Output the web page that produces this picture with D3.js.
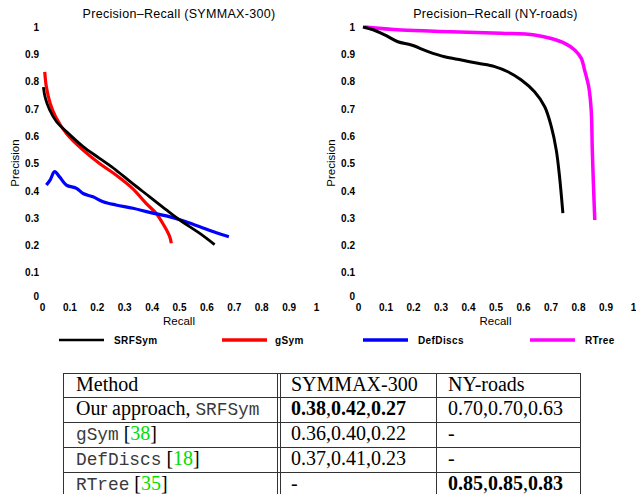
<!DOCTYPE html>
<html lang="en">
<head>
  <meta charset="UTF-8">
  <title>Precision-Recall</title>
  <script src="https://d3js.org/d3.v7.min.js"></script>
  <style>
    body { margin: 0; background: #fff; }
    svg { display: block; }
    .tick text { font-family: "Liberation Sans", Arial, sans-serif; font-weight: bold; }
  </style>
</head>
<body>
  <svg id="chart" width="636" height="494"></svg>
  <script>
    // tick values / labels shared by both panels
    const tickValues = [0, 0.1, 0.2, 0.3, 0.4, 0.5, 0.6, 0.7, 0.8, 0.9, 1];
    const tickLabels = ["0", "0.1", "0.2", "0.3", "0.4", "0.5", "0.6", "0.7", "0.8", "0.9", "1"];

    // SYMMAX-300 curves, [recall, precision]
    const symmaxSRFSym = [[0.005, 0.78], [0.012, 0.74], [0.028, 0.696], [0.053, 0.653], [0.089, 0.617],
      [0.15, 0.562], [0.21, 0.519], [0.27, 0.476], [0.33, 0.427], [0.393, 0.378], [0.454, 0.33],
      [0.503, 0.293], [0.576, 0.244], [0.63, 0.203]];
    const symmaxGSym = [[0.01, 0.836], [0.016, 0.78], [0.03, 0.72], [0.05, 0.67], [0.089, 0.61],
      [0.15, 0.549], [0.21, 0.5], [0.27, 0.458], [0.33, 0.409], [0.38, 0.354], [0.417, 0.317],
      [0.448, 0.268], [0.466, 0.232], [0.472, 0.208]];
    const symmaxDefDiscs = [[0.016, 0.421], [0.03, 0.44], [0.046, 0.47], [0.065, 0.45], [0.089, 0.421],
      [0.126, 0.409], [0.15, 0.39], [0.186, 0.378], [0.223, 0.36], [0.27, 0.348], [0.332, 0.336],
      [0.393, 0.321], [0.454, 0.308], [0.515, 0.29], [0.576, 0.268], [0.636, 0.246], [0.682, 0.232]];

    // NY-roads curves, [recall, precision]
    const nySRFSym = [[0.018, 1.0], [0.055, 0.99], [0.097, 0.971], [0.145, 0.946], [0.194, 0.934],
      [0.255, 0.91], [0.315, 0.891], [0.376, 0.879], [0.436, 0.867], [0.497, 0.855], [0.545, 0.836],
      [0.594, 0.806], [0.642, 0.763], [0.679, 0.708], [0.703, 0.635], [0.721, 0.549], [0.733, 0.451],
      [0.745, 0.318]];
    const nyRTree = [[0.024, 1.0], [0.157, 0.989], [0.34, 0.983], [0.521, 0.977], [0.642, 0.971],
      [0.703, 0.958], [0.752, 0.94], [0.788, 0.916], [0.812, 0.885], [0.824, 0.842], [0.839, 0.781],
      [0.848, 0.696], [0.852, 0.549], [0.856, 0.427], [0.861, 0.293]];

    const legendNames = ["SRFSym", "gSym", "DefDiscs", "RTree"];
    const legendColors = ["#000000", "#ff0000", "#0000ff", "#ff00ff"];

    // table content
    const tableHeader = ["Method", "SYMMAX-300", "NY-roads"];
    const methodNames = ["Our approach, ", "gSym", "DefDiscs", "RTree"];
    const methodCites = [null, "38", "18", "35"];
    const symmaxScores = [["0.38", "0.42", "0.27"], ["0.36", "0.40", "0.22"], ["0.37", "0.41", "0.23"], null];
    const nyScores = [["0.70", "0.70", "0.63"], null, null, ["0.85", "0.85", "0.83"]];
    const boldScores = [[true, false], [false, false], [false, false], [false, true]];

    const svg = d3.select("#chart");
    const sans = "'Liberation Sans', Arial, sans-serif";

    const y = d3.scaleLinear().domain([0, 1]).range([300, 27]);

    // [data, colour index, stroke width], drawn in this order
    const panels = [
      { title: "Precision\u2013Recall (SYMMAX-300)", x: d3.scaleLinear().domain([0, 1]).range([42, 316]),
        series: [[symmaxGSym, 1, 3.2], [symmaxDefDiscs, 2, 3.2], [symmaxSRFSym, 0, 2.8]] },
      { title: "Precision\u2013Recall (NY-roads)", x: d3.scaleLinear().domain([0, 1]).range([358, 633]),
        series: [[nyRTree, 3, 3.5], [nySRFSym, 0, 3]] }
    ];

    panels.forEach(p => {
      const x = p.x;
      const cx = (x.range()[0] + x.range()[1]) / 2;

      const xAxis = svg.append("g")
          .attr("transform", "translate(0,300)")
          .call(d3.axisBottom(x).tickValues(tickValues).tickFormat((d, i) => tickLabels[i]).tickSize(0).tickPadding(4));
      xAxis.select(".domain").remove();
      xAxis.selectAll("text").attr("font-size", 10).attr("fill", "#000");

      const yAxis = svg.append("g")
          .attr("transform", `translate(${x.range()[0]},0)`)
          .call(d3.axisLeft(y).tickValues(tickValues).tickFormat((d, i) => tickLabels[i]).tickSize(0).tickPadding(3));
      yAxis.select(".domain").remove();
      yAxis.selectAll("text").attr("font-size", 10).attr("fill", "#000");
      // the zero label sits a bit above the x labels
      yAxis.selectAll(".tick").filter(d => d === 0).select("text").attr("dy", "-0.05em");

      svg.append("text")
          .attr("x", cx).attr("y", 18)
          .attr("text-anchor", "middle")
          .attr("font-family", sans).attr("font-size", 12.5)
          .attr("letter-spacing", 0.3)
          .text(p.title);

      svg.append("text")
          .attr("x", cx).attr("y", 325)
          .attr("text-anchor", "middle")
          .attr("font-family", sans).attr("font-size", 11.5)
          .text("Recall");

      svg.append("text")
          .attr("transform", `translate(${x.range()[0] - 23},163) rotate(-90)`)
          .attr("text-anchor", "middle")
          .attr("font-family", sans).attr("font-size", 11.5)
          .text("Precision");

      const line = d3.line().x(d => x(d[0])).y(d => y(d[1])).curve(d3.curveCatmullRom.alpha(0.5));
      p.series.forEach(([data, ci, w]) => {
        svg.append("path")
            .datum(data)
            .attr("d", line)
            .attr("fill", "none")
            .attr("stroke", legendColors[ci])
            .attr("stroke-width", w)
            .attr("stroke-linejoin", "round");
      });
    });

    // legend
    const legendLineX = [59, 222, 363, 530];
    const legend = svg.append("g");
    legendNames.forEach((name, i) => {
      legend.append("line")
          .attr("x1", legendLineX[i]).attr("x2", legendLineX[i] + 45)
          .attr("y1", 340).attr("y2", 340)
          .attr("stroke", legendColors[i])
          .attr("stroke-width", i === 0 ? 2.5 : 3.5);
      legend.append("text")
          .attr("x", legendLineX[i] + (i === 1 ? 53 : 55)).attr("y", 344)
          .attr("font-family", sans).attr("font-size", 10)
          .attr("font-weight", "bold")
          .attr("letter-spacing", 0.4)
          .text(name);
    });

    // results table
    const serif = "'Liberation Serif', 'Times New Roman', serif";
    const mono = "'Liberation Mono', 'Courier New', monospace";
    const rowY = [373, 397, 422, 447, 472];
    const colX = [63, 436, 581];
    const textX = [76, 291, 448];
    const table = svg.append("g").attr("stroke", "#333").attr("stroke-width", 1);

    rowY.forEach(ry => {
      table.append("line").attr("x1", colX[0]).attr("x2", colX[2]).attr("y1", ry + 0.5).attr("y2", ry + 0.5);
    });
    [63.5, 277.5, 280.5, 436.5, 580.5].forEach(vx => {
      table.append("line").attr("x1", vx).attr("x2", vx).attr("y1", rowY[0]).attr("y2", 494);
    });

    const cell = (col, row) => svg.append("text")
        .attr("x", textX[col]).attr("y", rowY[row] + 17.5)
        .attr("font-family", serif).attr("font-size", 20).attr("fill", "#000");

    tableHeader.forEach((h, i) => cell(i, 0).text(h));

    const scoreCell = (t, vals, bold) => {
      if (!vals) { t.text("-"); return; }
      vals.forEach((v, k) => {
        t.append("tspan").attr("font-weight", bold ? "bold" : "normal").text(v);
        if (k < vals.length - 1) t.append("tspan").text(",");
      });
    };

    methodNames.forEach((m, i) => {
      const row = i + 1;
      const t = cell(0, row);
      if (i === 0) {
        t.append("tspan").text(m);
        t.append("tspan").attr("font-family", mono).attr("font-size", 17.8).attr("fill", "#3a3a3a").text("SRFSym");
      } else {
        t.append("tspan").attr("font-family", mono).attr("font-size", 17.8).attr("fill", "#3a3a3a").text(m);
        t.append("tspan").text(" [");
        t.append("tspan").attr("fill", "#00dd00").text(methodCites[i]);
        t.append("tspan").text("]");
      }
      scoreCell(cell(1, row), symmaxScores[i], boldScores[i][0]);
      scoreCell(cell(2, row), nyScores[i], boldScores[i][1]);
    });
  </script>
</body>
</html>
